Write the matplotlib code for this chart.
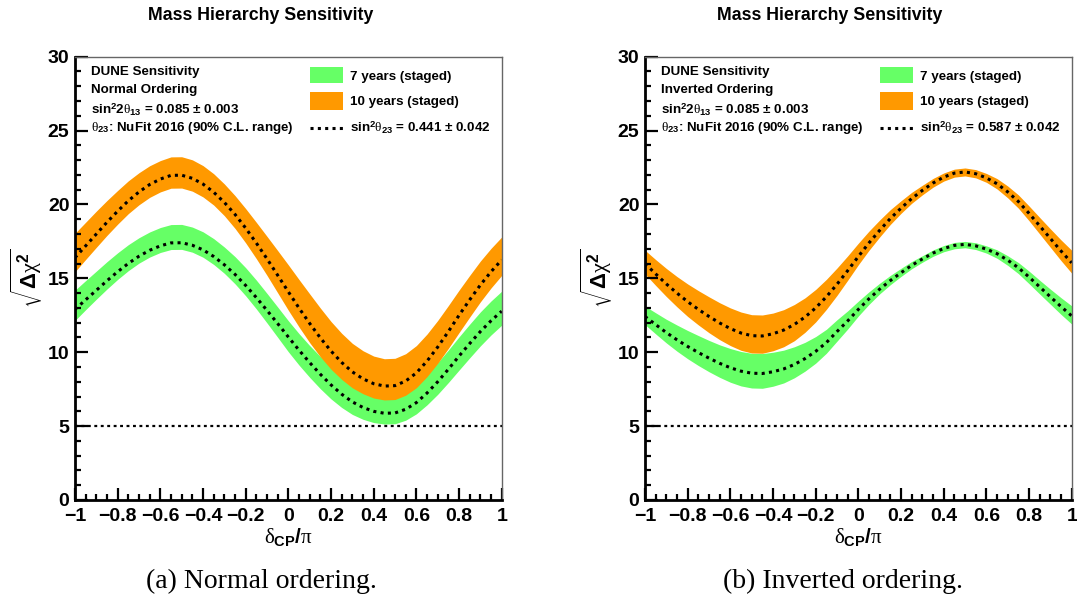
import numpy as np
import matplotlib.pyplot as plt
from matplotlib.patches import Rectangle
from matplotlib.ticker import MultipleLocator

plt.rcParams['font.family'] = 'Liberation Sans'
plt.rcParams['mathtext.fontset'] = 'custom'
plt.rcParams['mathtext.rm'] = 'Liberation Sans:bold'
plt.rcParams['mathtext.bf'] = 'Liberation Sans:bold'
plt.rcParams['mathtext.sf'] = 'Liberation Sans:bold'
plt.rcParams['mathtext.it'] = 'Liberation Serif'

# delta_CP / pi
dcp = [-1.0, -0.95, -0.9, -0.85, -0.8, -0.75, -0.7, -0.65, -0.6, -0.55, -0.5,
       -0.45, -0.4, -0.35, -0.3, -0.25, -0.2, -0.15, -0.1, -0.05, 0.0,
       0.05, 0.1, 0.15, 0.2, 0.25, 0.3, 0.35, 0.4, 0.45, 0.5,
       0.55, 0.6, 0.65, 0.7, 0.75, 0.8, 0.85, 0.9, 0.95, 1.0]

# Normal ordering
no_7_mid = [12.9, 13.55, 14.19, 14.84, 15.45, 16.01, 16.5, 16.9, 17.2, 17.4, 17.41,
            17.24, 16.93, 16.48, 15.92, 15.27, 14.52, 13.7, 12.83, 11.94, 11.03,
            10.14, 9.3, 8.51, 7.79, 7.16, 6.64, 6.26, 6.0, 5.87, 5.89,
            6.14, 6.59, 7.24, 8.0, 8.85, 9.74, 10.59, 11.4, 12.13, 12.78]
no_7_hi = [14.2, 14.85, 15.49, 16.13, 16.73, 17.28, 17.75, 18.14, 18.44, 18.64, 18.65,
           18.47, 18.15, 17.69, 17.12, 16.47, 15.72, 14.88, 13.98, 13.06, 12.13,
           11.26, 10.45, 9.71, 9.04, 8.44, 7.94, 7.56, 7.3, 7.17, 7.19,
           7.44, 7.89, 8.54, 9.3, 10.15, 11.04, 11.9, 12.73, 13.47, 14.13]
no_7_lo = [12.15, 12.88, 13.59, 14.28, 14.93, 15.52, 16.03, 16.44, 16.75, 16.95, 16.96,
           16.77, 16.43, 15.94, 15.34, 14.63, 13.82, 12.93, 11.98, 11.01, 10.03,
           9.13, 8.3, 7.53, 6.84, 6.26, 5.79, 5.46, 5.24, 5.14, 5.16,
           5.4, 5.83, 6.44, 7.15, 7.95, 8.79, 9.62, 10.43, 11.17, 11.83]
no_10_mid = [16.4, 17.2, 18.0, 18.8, 19.55, 20.25, 20.85, 21.35, 21.72, 21.97, 21.98,
             21.77, 21.38, 20.83, 20.14, 19.33, 18.4, 17.39, 16.32, 15.21, 14.09,
             12.99, 11.95, 10.97, 10.08, 9.31, 8.67, 8.2, 7.87, 7.71, 7.74,
             8.05, 8.6, 9.4, 10.35, 11.4, 12.5, 13.55, 14.55, 15.45, 16.25]
no_10_hi = [18.05, 18.8, 19.55, 20.27, 20.95, 21.6, 22.15, 22.62, 22.97, 23.22, 23.23,
            23.02, 22.63, 22.08, 21.39, 20.6, 19.72, 18.79, 17.84, 16.88, 15.91,
            14.92, 13.95, 12.99, 12.08, 11.28, 10.6, 10.1, 9.74, 9.56, 9.59,
            9.9, 10.45, 11.23, 12.15, 13.16, 14.2, 15.2, 16.17, 17.03, 17.8]
no_10_lo = [15.45, 16.28, 17.1, 17.91, 18.67, 19.38, 19.98, 20.48, 20.85, 21.1, 21.11,
            20.9, 20.51, 19.96, 19.24, 18.38, 17.4, 16.33, 15.2, 14.02, 12.84,
            11.71, 10.65, 9.69, 8.85, 8.16, 7.59, 7.19, 6.9, 6.77, 6.8,
            7.09, 7.6, 8.35, 9.25, 10.26, 11.33, 12.38, 13.41, 14.35, 15.2]

# Inverted ordering
io_7_mid = [12.42, 11.87, 11.33, 10.84, 10.39, 9.98, 9.6, 9.25, 8.95, 8.72, 8.58,
            8.56, 8.68, 8.87, 9.17, 9.57, 10.06, 10.65, 11.4, 12.12, 12.9,
            13.62, 14.27, 14.85, 15.38, 15.88, 16.31, 16.71, 17.02, 17.23, 17.3,
            17.2, 16.98, 16.67, 16.23, 15.72, 15.09, 14.42, 13.75, 13.09, 12.46]
io_7_hi = [13.12, 12.67, 12.23, 11.84, 11.47, 11.13, 10.8, 10.5, 10.25, 10.05, 9.93,
           9.91, 10.0, 10.14, 10.37, 10.67, 11.06, 11.55, 12.2, 12.8, 13.46,
           14.09, 14.67, 15.2, 15.68, 16.14, 16.53, 16.92, 17.22, 17.43, 17.5,
           17.41, 17.2, 16.93, 16.53, 16.07, 15.49, 14.87, 14.27, 13.69, 13.14]
io_7_lo = [11.87, 11.24, 10.63, 10.07, 9.56, 9.1, 8.68, 8.3, 7.97, 7.72, 7.58,
           7.56, 7.7, 7.92, 8.27, 8.72, 9.26, 9.93, 10.75, 11.57, 12.45,
           13.24, 13.95, 14.57, 15.13, 15.65, 16.09, 16.49, 16.8, 17.0, 17.07,
           16.95, 16.71, 16.36, 15.88, 15.32, 14.64, 13.94, 13.25, 12.56, 11.91]
io_10_mid = [16.0, 15.3, 14.62, 14.0, 13.42, 12.9, 12.42, 11.98, 11.6, 11.3, 11.12,
             11.1, 11.25, 11.5, 11.88, 12.38, 13.0, 13.75, 14.6, 15.52, 16.48,
             17.4, 18.25, 19.05, 19.75, 20.4, 20.95, 21.45, 21.85, 22.12, 22.2,
             22.08, 21.8, 21.4, 20.85, 20.2, 19.4, 18.55, 17.7, 16.85, 16.05]
io_10_hi = [16.9, 16.27, 15.67, 15.12, 14.62, 14.17, 13.75, 13.35, 13.0, 12.72, 12.54,
            12.52, 12.65, 12.88, 13.23, 13.68, 14.25, 14.93, 15.7, 16.52, 17.38,
            18.2, 18.95, 19.65, 20.25, 20.82, 21.3, 21.76, 22.13, 22.39, 22.47,
            22.36, 22.1, 21.75, 21.25, 20.65, 19.9, 19.12, 18.35, 17.6, 16.9]
io_10_lo = [15.3, 14.52, 13.77, 13.07, 12.42, 11.85, 11.32, 10.85, 10.45, 10.13, 9.95,
            9.93, 10.1, 10.37, 10.78, 11.35, 12.05, 12.9, 13.85, 14.87, 15.92,
            16.9, 17.8, 18.65, 19.4, 20.08, 20.65, 21.17, 21.58, 21.85, 21.93,
            21.8, 21.5, 21.05, 20.45, 19.75, 18.9, 18.0, 17.1, 16.2, 15.35]

threshold = 5
xticks = [-1, -0.8, -0.6, -0.4, -0.2, 0, 0.2, 0.4, 0.6, 0.8, 1]
xticklabels = ['\u22121', '\u22120.8', '\u22120.6', '\u22120.4', '\u22120.2', '0',
               '0.2', '0.4', '0.6', '0.8', '1']
yticks = [0, 5, 10, 15, 20, 25, 30]

green = '#66ff66'
orange = '#ff9900'
dots = (0, (1, 1.4))


def panel(ax, mid7, lo7, hi7, mid10, lo10, hi10, ordering, th23):
    ax.fill_between(dcp, lo7, hi7, color=green, lw=0)
    ax.fill_between(dcp, lo10, hi10, color=orange, lw=0)
    ax.plot(dcp, mid7, color='black', lw=2.2, ls=dots)
    ax.plot(dcp, mid10, color='black', lw=2.2, ls=dots)
    ax.axhline(threshold, color='black', lw=1.6, ls=(0, (1.3, 1.6)))

    ax.set_xlim(-1, 1)
    ax.set_ylim(0, 30)
    ax.set_xticks(xticks)
    ax.set_xticklabels(xticklabels)
    ax.set_yticks(yticks)
    ax.xaxis.set_minor_locator(MultipleLocator(0.05))
    ax.yaxis.set_minor_locator(MultipleLocator(1))
    ax.tick_params(which='both', direction='in', top=False, right=False, width=1.6)
    ax.tick_params(which='major', length=9, labelsize=14)
    ax.tick_params(which='minor', length=4.5)
    ax.tick_params(axis='x', pad=6)
    ax.tick_params(axis='y', pad=4)
    for lbl in ax.get_xticklabels() + ax.get_yticklabels():
        lbl.set_fontweight('bold')
    for side in ['left', 'bottom']:
        ax.spines[side].set_linewidth(2)
    for side in ['top', 'right']:
        ax.spines[side].set_linewidth(1)
        ax.spines[side].set_color('#666666')

    ax.text(0.5, -0.083, r'$\delta_{\mathrm{CP}}/\pi$', transform=ax.transAxes,
            ha='center', va='center', fontsize=15)
    ax.text(-0.112, 0.5, r'$\sqrt{\mathit{\Delta}\chi^{2}}$', transform=ax.transAxes,
            ha='center', va='center', fontsize=16, rotation=90)

    tx = 0.037
    kw = dict(transform=ax.transAxes, fontsize=9.6, fontweight='bold', va='center')
    ax.text(tx, 0.9655, 'DUNE Sensitivity', **kw)
    ax.text(tx, 0.9249, ordering, **kw)
    ax.text(tx, 0.8798, r'sin$^{2}$2$\theta_{13}$ = 0.085 $\pm$ 0.003', **kw)
    ax.text(tx, 0.8392, r'$\theta_{23}$: NuFit 2016 (90% C.L. range)', **kw)

    bx0, bx1 = 0.551, 0.628
    ax.add_patch(Rectangle((bx0, 0.9407), bx1 - bx0, 0.0361, transform=ax.transAxes,
                           color=green, lw=0))
    ax.add_patch(Rectangle((bx0, 0.8798), bx1 - bx0, 0.0406, transform=ax.transAxes,
                           color=orange, lw=0))
    ax.plot([bx0, bx1], [0.8392, 0.8392], transform=ax.transAxes, color='black',
            lw=2.2, ls=dots)
    lx = 0.645
    ax.text(lx, 0.9542, '7 years (staged)', **kw)
    ax.text(lx, 0.8978, '10 years (staged)', **kw)
    ax.text(lx, 0.8392, r'sin$^{2}\theta_{23}$ = ' + th23 + r' $\pm$ 0.042', **kw)


fig = plt.figure(figsize=(10.77, 6.06), dpi=100)
W, H = 1077, 606
ax1 = fig.add_axes([75 / W, 106 / H, 426.7 / W, 443.3 / H])
ax2 = fig.add_axes([645 / W, 106 / H, 426.7 / W, 443.3 / H])

panel(ax1, no_7_mid, no_7_lo, no_7_hi, no_10_mid, no_10_lo, no_10_hi,
      'Normal Ordering', '0.441')
panel(ax2, io_7_mid, io_7_lo, io_7_hi, io_10_mid, io_10_lo, io_10_hi,
      'Inverted Ordering', '0.587')

for cx in [261, 830]:
    fig.text(cx / W, 1 - 15 / H, 'Mass Hierarchy Sensitivity', ha='center', va='center',
             fontsize=12.8, fontweight='bold')

fig.text(261 / W, 1 - 581 / H, '(a) Normal ordering.', ha='center', va='center',
         fontsize=20, family='Liberation Serif')
fig.text(843 / W, 1 - 581 / H, '(b) Inverted ordering.', ha='center', va='center',
         fontsize=20, family='Liberation Serif')

fig.savefig('out.png', dpi=100)
